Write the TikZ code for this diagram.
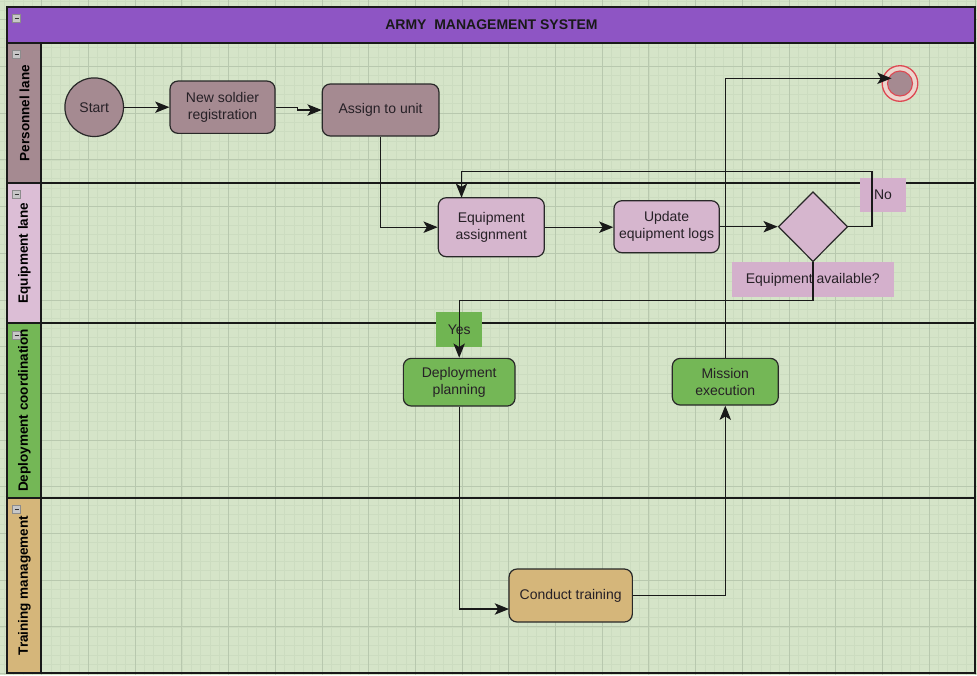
\documentclass[tikz,border=0pt]{standalone}
\usepackage{fontspec}
\setmainfont{Liberation Sans}
\usetikzlibrary{arrows.meta,shapes.geometric,calc}
\definecolor{bgc}{RGB}{213,228,200}
\definecolor{gridminor}{RGB}{204,220,192}
\definecolor{gridmajor}{RGB}{184,200,174}
\definecolor{titlec}{RGB}{142,85,196}
\definecolor{perc}{RGB}{165,138,145}
\definecolor{equc}{RGB}{214,182,206}
\definecolor{equlab}{RGB}{220,190,214}
\definecolor{depc}{RGB}{116,183,86}
\definecolor{trac}{RGB}{213,182,122}
\definecolor{pinklab}{RGB}{212,176,204}
\definecolor{greenlab}{RGB}{112,181,82}
\definecolor{endred}{RGB}{222,72,82}
\definecolor{endgap}{RGB}{236,214,206}
\definecolor{txt}{RGB}{38,32,38}
\definecolor{strokec}{RGB}{40,40,40}
\begin{document}
\begin{tikzpicture}[x=1pt,y=-1pt,
  box/.style={draw=strokec, line width=1.2pt, rounded corners=8pt, inner sep=0pt,
    align=center, text=txt, font=\fontsize{14}{17}\selectfont},
  lanelabel/.style={rotate=90, font=\bfseries\fontsize{13.5}{16}\selectfont, text=black},
  flabel/.style={inner sep=0pt, text=txt, font=\fontsize{14}{17}\selectfont},
  conn/.style={draw=black!90, line width=1.2pt, arrows={-Stealth[length=5mm,width=4mm,inset=1.2mm]}},
  laneline/.style={draw=black!90, line width=1.3pt}
]
\useasboundingbox (0,0) rectangle (977,675);
% background and grid
\fill[bgc] (0,0) rectangle (977,675);
\foreach \i in {0,...,104} {
  \draw[gridminor, line width=0.6pt] ({4.34+9.34*\i},0) -- ({4.34+9.34*\i},675);
}
\foreach \i in {0,...,72} {
  \draw[gridminor, line width=0.6pt] (0,{1.02+9.34*\i}) -- (977,{1.02+9.34*\i});
}
\foreach \i in {-1,...,20} {
  \draw[gridmajor, line width=0.8pt] ({41.7+46.7*\i},0) -- ({41.7+46.7*\i},675);
}
\foreach \i in {0,...,14} {
  \draw[gridmajor, line width=0.8pt] (0,{19.7+46.7*\i}) -- (977,{19.7+46.7*\i});
}
% pool
\fill[titlec] (7,7) rectangle (975,43);
\fill[perc] (7,43) rectangle (41,183);
\fill[equlab] (7,183) rectangle (41,323);
\fill[depc] (7,323) rectangle (41,498);
\fill[trac] (7,498) rectangle (41,673);
\draw[laneline] (7,7) rectangle (975,673);
\draw[laneline] (7,43) -- (975,43);
\draw[laneline] (41,43) -- (41,673);
\draw[laneline] (7,183) -- (975,183);
\draw[laneline] (7,323) -- (975,323);
\draw[laneline] (7,498) -- (975,498);
% collapse icons
\foreach \yy in {14,50,190,331,505} {
  \filldraw[fill=black!22, draw=black!45, line width=0.5pt] (12.7,\yy) rectangle (20.7,\yy+8);
  \draw[black!80, line width=0.9pt] (14.5,\yy+4) -- (18.9,\yy+4);
}
% title and lane labels
\node[font=\bfseries\fontsize{14}{17}\selectfont, text=black!90] (title) at (491.5,25) {ARMY\ \ MANAGEMENT SYSTEM};
\node[lanelabel] (lperson) at (24.5,113) {Personnel lane};
\node[lanelabel] (lequip) at (24.5,253) {Equipment lane};
\node[lanelabel] (ldeploy) at (24.5,410.5) {Deployment coordination};
\node[lanelabel] (ltrain) at (24.5,585.5) {Training management};
% nodes
\node[circle, draw=strokec, line width=1.2pt, fill=perc, minimum size=58.6pt, inner sep=0pt,
  text=txt, font=\fontsize{14}{17}\selectfont] (start) at (94.2,107.2) {Start};
\node[box, fill=perc, minimum width=105pt, minimum height=52.3pt] (nsr) at (222.5,107.2) {New soldier\\registration};
\node[box, fill=perc, minimum width=116.7pt, minimum height=52pt] (assign) at (380.6,110) {Assign to unit};
\node[box, fill=equc, minimum width=106pt, minimum height=59pt] (equip) at (491.3,227.2) {Equipment\\assignment};
\node[box, fill=equc, minimum width=105.3pt, minimum height=52pt] (update) at (666.6,226.7) {Update\\equipment logs};
\node[diamond, draw=strokec, line width=1.2pt, fill=equc, minimum width=69.4pt, minimum height=70pt, inner sep=0pt] (dia) at (813,226.7) {};
\node[box, fill=depc, minimum width=111.7pt, minimum height=47.7pt] (deploy) at (459.2,382.2) {Deployment\\planning};
\node[box, fill=depc, minimum width=106pt, minimum height=46.7pt] (mission) at (725.3,381.7) {Mission\\execution};
\node[box, fill=trac, minimum width=123.3pt, minimum height=53pt] (train) at (570.7,595.5) {Conduct training};
\node[circle, draw=endred, line width=1.3pt, fill=endgap, minimum size=35.6pt, inner sep=0pt] (endo) at (900,83.5) {};
\node[circle, draw=endred, line width=1.1pt, fill=perc, minimum size=25pt, inner sep=0pt] (endi) at (900,83.5) {};
% edge labels
\node[flabel, fill=pinklab, minimum width=46pt, minimum height=34.6pt] (nolab) at (883,195) {No};
\node[flabel, fill=pinklab, minimum width=162.3pt, minimum height=35pt] (avlab) at (812.8,279.7) {Equipment available?};
\node[flabel, fill=greenlab, minimum width=46.3pt, minimum height=34.7pt] (yeslab) at (459.2,329.3) {Yes};
% helper coordinates
\coordinate (noturn) at (872,171.5);
\coordinate (eqin) at (461.5,197.7);
\coordinate (trin) at (509,609);
\coordinate (endin) at (891.5,78.3);
% connectors
\draw[conn] (start) -- (nsr);
\draw[conn] (nsr.east) -- ++(22,0) |- (assign.west);
\draw[conn] (assign.south) |- (equip.west);
\draw[conn] (equip.east) -- (update.west |- equip.east);
\draw[conn] (update.east) -- (dia.west);
\draw[conn] (dia.east) -| (noturn) -| (eqin);
\draw[conn] (dia.south) -- ++(0,38.3) -| (deploy.north);
\draw[conn] (deploy.south) |- (trin);
\draw[conn] (train.east) -| (mission.south);
\draw[conn] (mission.north) |- (endin);
\end{tikzpicture}
\end{document}
